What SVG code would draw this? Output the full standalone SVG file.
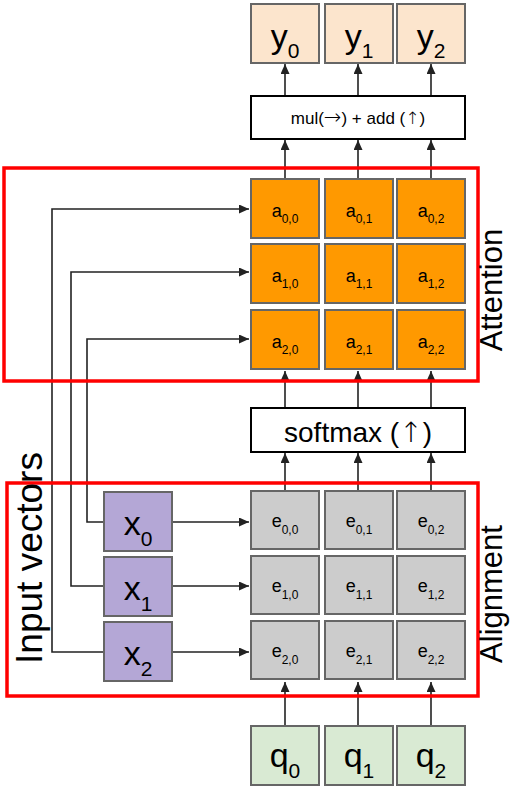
<svg xmlns="http://www.w3.org/2000/svg" width="510" height="789" viewBox="0 0 510 789">
<defs>
<marker id="ah" markerWidth="10" markerHeight="9" refX="10" refY="4.5" orient="auto" markerUnits="userSpaceOnUse"><path d="M0,0 L10,4.5 L0,9 z" fill="#222"/></marker>
<style>
text{font-family:"Liberation Sans",Arial,sans-serif;fill:#000}
.arw{font-family:"DejaVu Sans",sans-serif;font-weight:200}
.c{stroke:#666;stroke-width:2}
.y{fill:#fce5cd}
.a{fill:#ff9900}
.e{fill:#cccccc}
.x{fill:#b4a7d6}
.q{fill:#d9ead3}
.op{fill:#fff;stroke:#000;stroke-width:2}
.big{font-size:34px}
.bs{font-size:21px}
.m{font-size:18px}
.ms{font-size:12px}
.conn path{stroke:#222;stroke-width:1.6;fill:none;marker-end:url(#ah)}
.red{fill:none;stroke:#ff0000;stroke-width:3.5}
.side{font-size:31px}
</style>
</defs>
<rect width="510" height="789" fill="#fff"/>

<g id="connectors" class="conn">
<path d="M285,96 V64"/><path d="M358,96 V64"/><path d="M431,96 V64"/>
<path d="M285,179 V140"/><path d="M358,179 V140"/><path d="M431,179 V140"/>
<path d="M285,408 V371"/><path d="M358,408 V371"/><path d="M431,408 V371"/>
<path d="M285,491 V453"/><path d="M358,491 V453"/><path d="M431,491 V453"/>
<path d="M285,726 V682"/><path d="M358,726 V682"/><path d="M431,726 V682"/>
<path d="M172,522 H249"/><path d="M172,586 H249"/><path d="M172,652 H249"/>
<path d="M104,522 H87 V339 H249"/>
<path d="M104,586 H71 V272 H249"/>
<path d="M104,652 H52 V209 H249"/>
</g>

<g id="attention-group"><rect class="red" x="4" y="168" width="474" height="213"/><text class="side" transform="translate(502,290) rotate(-90)" text-anchor="middle">Attention</text></g>
<g id="alignment-group"><rect class="red" x="7" y="483" width="471" height="213"/><text class="side" transform="translate(502,594) rotate(-90)" text-anchor="middle">Alignment</text></g>
<g id="input-vectors-label"><text transform="translate(42,558) rotate(-90)" text-anchor="middle" style="font-size:37px">Input vectors</text></g>

<g id="y0"><rect class="c y" x="251" y="4" width="68" height="59"/><text class="big" x="285" y="48" text-anchor="middle">y<tspan class="bs" dy="10">0</tspan></text></g>
<g id="y1"><rect class="c y" x="325" y="4" width="68" height="59"/><text class="big" x="359" y="48" text-anchor="middle">y<tspan class="bs" dy="10">1</tspan></text></g>
<g id="y2"><rect class="c y" x="397" y="4" width="68" height="59"/><text class="big" x="431" y="48" text-anchor="middle">y<tspan class="bs" dy="10">2</tspan></text></g>

<g id="mul"><rect class="op" x="251" y="96" width="214" height="43"/><text x="358" y="124" text-anchor="middle" style="font-size:17px">mul(<tspan class="arw" style="font-size:21px">→</tspan>) + add (<tspan class="arw">↑</tspan>)</text></g>

<g id="a00"><rect class="c a" x="251" y="179" width="68" height="59"/><text class="m" x="285" y="216.5" text-anchor="middle">a<tspan class="ms" dy="6">0,0</tspan></text></g>
<g id="a01"><rect class="c a" x="325" y="179" width="68" height="59"/><text class="m" x="359" y="216.5" text-anchor="middle">a<tspan class="ms" dy="6">0,1</tspan></text></g>
<g id="a02"><rect class="c a" x="397" y="179" width="68" height="59"/><text class="m" x="431" y="216.5" text-anchor="middle">a<tspan class="ms" dy="6">0,2</tspan></text></g>
<g id="a10"><rect class="c a" x="251" y="244" width="68" height="59"/><text class="m" x="285" y="281.5" text-anchor="middle">a<tspan class="ms" dy="6">1,0</tspan></text></g>
<g id="a11"><rect class="c a" x="325" y="244" width="68" height="59"/><text class="m" x="359" y="281.5" text-anchor="middle">a<tspan class="ms" dy="6">1,1</tspan></text></g>
<g id="a12"><rect class="c a" x="397" y="244" width="68" height="59"/><text class="m" x="431" y="281.5" text-anchor="middle">a<tspan class="ms" dy="6">1,2</tspan></text></g>
<g id="a20"><rect class="c a" x="251" y="310" width="68" height="59"/><text class="m" x="285" y="347.5" text-anchor="middle">a<tspan class="ms" dy="6">2,0</tspan></text></g>
<g id="a21"><rect class="c a" x="325" y="310" width="68" height="59"/><text class="m" x="359" y="347.5" text-anchor="middle">a<tspan class="ms" dy="6">2,1</tspan></text></g>
<g id="a22"><rect class="c a" x="397" y="310" width="68" height="59"/><text class="m" x="431" y="347.5" text-anchor="middle">a<tspan class="ms" dy="6">2,2</tspan></text></g>

<g id="softmax"><rect class="op" x="251" y="408" width="214" height="44"/><text x="358" y="442" text-anchor="middle" style="font-size:28px">softmax (<tspan class="arw">↑</tspan>)</text></g>

<g id="e00"><rect class="c e" x="251" y="491" width="68" height="58"/><text class="m" x="285" y="527" text-anchor="middle">e<tspan class="ms" dy="6.5">0,0</tspan></text></g>
<g id="e01"><rect class="c e" x="325" y="491" width="68" height="58"/><text class="m" x="359" y="527" text-anchor="middle">e<tspan class="ms" dy="6.5">0,1</tspan></text></g>
<g id="e02"><rect class="c e" x="397" y="491" width="68" height="58"/><text class="m" x="431" y="527" text-anchor="middle">e<tspan class="ms" dy="6.5">0,2</tspan></text></g>
<g id="e10"><rect class="c e" x="251" y="556" width="68" height="58"/><text class="m" x="285" y="592" text-anchor="middle">e<tspan class="ms" dy="6.5">1,0</tspan></text></g>
<g id="e11"><rect class="c e" x="325" y="556" width="68" height="58"/><text class="m" x="359" y="592" text-anchor="middle">e<tspan class="ms" dy="6.5">1,1</tspan></text></g>
<g id="e12"><rect class="c e" x="397" y="556" width="68" height="58"/><text class="m" x="431" y="592" text-anchor="middle">e<tspan class="ms" dy="6.5">1,2</tspan></text></g>
<g id="e20"><rect class="c e" x="251" y="621" width="68" height="58"/><text class="m" x="285" y="657" text-anchor="middle">e<tspan class="ms" dy="6.5">2,0</tspan></text></g>
<g id="e21"><rect class="c e" x="325" y="621" width="68" height="58"/><text class="m" x="359" y="657" text-anchor="middle">e<tspan class="ms" dy="6.5">2,1</tspan></text></g>
<g id="e22"><rect class="c e" x="397" y="621" width="68" height="58"/><text class="m" x="431" y="657" text-anchor="middle">e<tspan class="ms" dy="6.5">2,2</tspan></text></g>

<g id="x0"><rect class="c x" x="104" y="492" width="68" height="59"/><text class="big" x="138" y="535" text-anchor="middle">x<tspan class="bs" dy="11">0</tspan></text></g>
<g id="x1"><rect class="c x" x="104" y="557" width="68" height="59"/><text class="big" x="138" y="600" text-anchor="middle">x<tspan class="bs" dy="11">1</tspan></text></g>
<g id="x2"><rect class="c x" x="104" y="622" width="68" height="59"/><text class="big" x="138" y="665" text-anchor="middle">x<tspan class="bs" dy="11">2</tspan></text></g>

<g id="q0"><rect class="c q" x="251" y="726" width="68" height="59"/><text class="big" x="285" y="767" text-anchor="middle">q<tspan class="bs" dy="11">0</tspan></text></g>
<g id="q1"><rect class="c q" x="325" y="726" width="68" height="59"/><text class="big" x="359" y="767" text-anchor="middle">q<tspan class="bs" dy="11">1</tspan></text></g>
<g id="q2"><rect class="c q" x="397" y="726" width="68" height="59"/><text class="big" x="431" y="767" text-anchor="middle">q<tspan class="bs" dy="11">2</tspan></text></g>
</svg>
